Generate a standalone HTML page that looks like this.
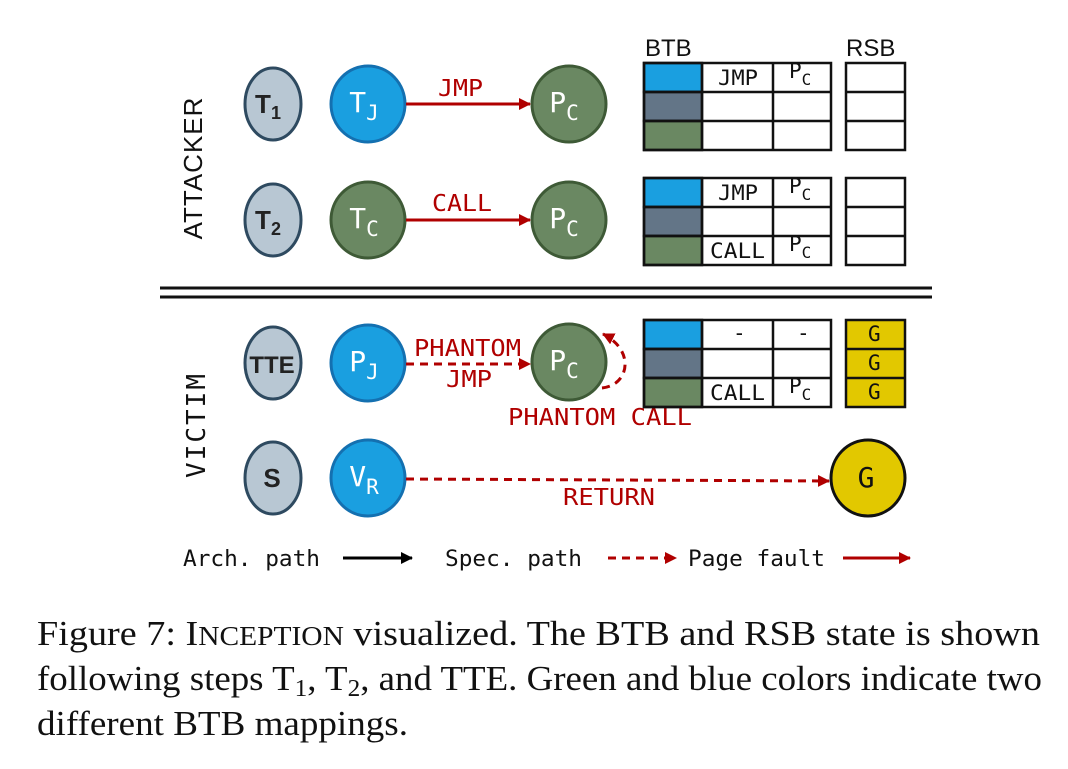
<!DOCTYPE html>
<html><head><style>body{margin:0;background:#fff}svg{display:block}
.m{font-family:"DejaVu Sans Mono","Liberation Mono",monospace}
.cap{font-family:"Liberation Serif",serif;font-size:35px;fill:#111}</style></head><body>
<svg width="1068" height="769" viewBox="0 0 1068 769">
<defs>
<marker id="ar" markerWidth="12" markerHeight="12" refX="11" refY="6" orient="auto" markerUnits="userSpaceOnUse"><path d="M0,0 L12,6 L0,12 Z" fill="#b00000"/></marker>
<marker id="ab" markerWidth="12" markerHeight="12" refX="11" refY="6" orient="auto" markerUnits="userSpaceOnUse"><path d="M0,0 L12,6 L0,12 Z" fill="#000"/></marker>
</defs>
<g font-family="Liberation Sans, sans-serif">
<text transform="translate(202,168) rotate(-90)" text-anchor="middle" font-size="26" fill="#111" letter-spacing="1">ATTACKER</text>
<text class="m" transform="translate(205,425) rotate(-90)" text-anchor="middle" font-size="26" fill="#111" letter-spacing="2">VICTIM</text>
</g>
<g stroke-width="3">
<ellipse cx="273" cy="104" rx="28" ry="36" fill="#b8c7d3" stroke="#2e4a60"/>
<ellipse cx="368" cy="104" rx="37" ry="38" fill="#1a9fe0" stroke="#1470b0"/>
<ellipse cx="569" cy="104" rx="37" ry="38" fill="#6a8862" stroke="#3e5a36"/>
<ellipse cx="273" cy="220" rx="28" ry="36" fill="#b8c7d3" stroke="#2e4a60"/>
<ellipse cx="368" cy="220" rx="37" ry="38" fill="#6a8862" stroke="#3e5a36"/>
<ellipse cx="569" cy="220" rx="37" ry="38" fill="#6a8862" stroke="#3e5a36"/>
<ellipse cx="273" cy="363" rx="28" ry="36" fill="#b8c7d3" stroke="#2e4a60"/>
<ellipse cx="368" cy="363" rx="37" ry="38" fill="#1a9fe0" stroke="#1470b0"/>
<ellipse cx="569" cy="362" rx="37" ry="38" fill="#6a8862" stroke="#3e5a36"/>
<ellipse cx="273" cy="478" rx="28" ry="36" fill="#b8c7d3" stroke="#2e4a60"/>
<ellipse cx="368" cy="478" rx="37" ry="38" fill="#1a9fe0" stroke="#1470b0"/>
<ellipse cx="868" cy="478" rx="37" ry="38" fill="#e2c800" stroke="#111"/>
</g>
<g font-family="Liberation Sans, sans-serif" font-weight="bold" font-size="26" fill="#222" text-anchor="middle">
<text x="268" y="113">T<tspan font-size="18" dy="6">1</tspan></text>
<text x="268" y="229">T<tspan font-size="18" dy="6">2</tspan></text>
<text x="272" y="373" font-size="24">TTE</text>
<text x="272" y="487">S</text>
</g>
<g class="m" font-size="28" fill="#fff" text-anchor="middle">
<text x="364" y="112">T<tspan font-size="21" dy="8">J</tspan></text>
<text x="564" y="112">P<tspan font-size="21" dy="8">C</tspan></text>
<text x="364" y="228">T<tspan font-size="21" dy="8">C</tspan></text>
<text x="564" y="228">P<tspan font-size="21" dy="8">C</tspan></text>
<text x="364" y="371">P<tspan font-size="21" dy="8">J</tspan></text>
<text x="564" y="370">P<tspan font-size="21" dy="8">C</tspan></text>
<text x="364" y="486">V<tspan font-size="21" dy="8">R</tspan></text>
<text x="866" y="487" fill="#111">G</text>
</g>
<line x1="406" y1="104" x2="530" y2="104" stroke="#b00000" stroke-width="3" marker-end="url(#ar)"/>
<line x1="406" y1="220" x2="530" y2="220" stroke="#b00000" stroke-width="3" marker-end="url(#ar)"/>
<line x1="406" y1="364" x2="530" y2="364" stroke="#b00000" stroke-width="3" stroke-dasharray="8,6" marker-end="url(#ar)"/>
<line x1="406" y1="479" x2="829" y2="481" stroke="#b00000" stroke-width="3" stroke-dasharray="8,6" marker-end="url(#ar)"/>
<path d="M602,388 C630,385 635,350 603,334" fill="none" stroke="#b00000" stroke-width="3" stroke-dasharray="8,6" marker-end="url(#ar)"/>
<g class="m" font-size="23" fill="#b00000" lengthAdjust="spacingAndGlyphs">
<text x="438" y="96" textLength="45" lengthAdjust="spacingAndGlyphs">JMP</text>
<text x="432" y="211" textLength="60" lengthAdjust="spacingAndGlyphs">CALL</text>
<text x="414" y="356" textLength="107" lengthAdjust="spacingAndGlyphs">PHANTOM</text>
<text x="446" y="387" textLength="46" lengthAdjust="spacingAndGlyphs">JMP</text>
<text x="508" y="425" textLength="184" lengthAdjust="spacingAndGlyphs">PHANTOM CALL</text>
<text x="563" y="505" textLength="92" lengthAdjust="spacingAndGlyphs">RETURN</text>
</g>
<g font-family="Liberation Sans, sans-serif" font-size="24" fill="#111">
<text x="645" y="56">BTB</text><text x="846" y="56">RSB</text></g>
<g stroke="#111" stroke-width="2.5" fill="none">
<rect x="644" y="63" width="58" height="29" fill="#1a9fe0"/><rect x="644" y="92" width="58" height="29" fill="#637587"/><rect x="644" y="121" width="58" height="29" fill="#6a8862"/>
<rect x="644" y="63" width="187" height="87"/><line x1="644" y1="92" x2="831" y2="92"/><line x1="644" y1="121" x2="831" y2="121"/><line x1="702" y1="63" x2="702" y2="150"/><line x1="773" y1="63" x2="773" y2="150"/>
<rect x="846" y="63" width="59" height="87"/><line x1="846" y1="92" x2="905" y2="92"/><line x1="846" y1="121" x2="905" y2="121"/>
<rect x="644" y="178" width="58" height="29" fill="#1a9fe0"/><rect x="644" y="207" width="58" height="29" fill="#637587"/><rect x="644" y="236" width="58" height="29" fill="#6a8862"/>
<rect x="644" y="178" width="187" height="87"/><line x1="644" y1="207" x2="831" y2="207"/><line x1="644" y1="236" x2="831" y2="236"/><line x1="702" y1="178" x2="702" y2="265"/><line x1="773" y1="178" x2="773" y2="265"/>
<rect x="846" y="178" width="59" height="87"/><line x1="846" y1="207" x2="905" y2="207"/><line x1="846" y1="236" x2="905" y2="236"/>
<rect x="644" y="320" width="58" height="29" fill="#1a9fe0"/><rect x="644" y="349" width="58" height="29" fill="#637587"/><rect x="644" y="378" width="58" height="29" fill="#6a8862"/>
<rect x="644" y="320" width="187" height="87"/><line x1="644" y1="349" x2="831" y2="349"/><line x1="644" y1="378" x2="831" y2="378"/><line x1="702" y1="320" x2="702" y2="407"/><line x1="773" y1="320" x2="773" y2="407"/>
<rect x="846" y="320" width="59" height="87" fill="#e2c800"/><line x1="846" y1="349" x2="905" y2="349"/><line x1="846" y1="378" x2="905" y2="378"/>
</g>
<g class="m" font-size="21" fill="#111">
<text x="718" y="85" textLength="40" lengthAdjust="spacingAndGlyphs">JMP</text><text x="789" y="78">P<tspan font-size="16" dy="7">C</tspan></text>
<text x="718" y="200" textLength="40" lengthAdjust="spacingAndGlyphs">JMP</text><text x="789" y="193">P<tspan font-size="16" dy="7">C</tspan></text>
<text x="710" y="258" textLength="55" lengthAdjust="spacingAndGlyphs">CALL</text><text x="789" y="251">P<tspan font-size="16" dy="7">C</tspan></text>
<text x="733" y="340">-</text><text x="797" y="340">-</text>
<text x="710" y="400" textLength="55" lengthAdjust="spacingAndGlyphs">CALL</text><text x="789" y="393">P<tspan font-size="16" dy="7">C</tspan></text>
<text x="868" y="341">G</text><text x="868" y="370">G</text><text x="868" y="399">G</text>
</g>
<line x1="160" y1="288" x2="932" y2="288" stroke="#111" stroke-width="3"/>
<line x1="160" y1="297" x2="932" y2="297" stroke="#111" stroke-width="3"/>
<g class="m" font-size="22" fill="#111">
<text x="183" y="566" textLength="137" lengthAdjust="spacingAndGlyphs">Arch. path</text>
<text x="445" y="566" textLength="137" lengthAdjust="spacingAndGlyphs">Spec. path</text>
<text x="688" y="566" textLength="137" lengthAdjust="spacingAndGlyphs">Page fault</text></g>
<line x1="343" y1="558" x2="412" y2="558" stroke="#000" stroke-width="3" marker-end="url(#ab)"/>
<line x1="608" y1="558" x2="676" y2="558" stroke="#b00000" stroke-width="3" stroke-dasharray="8,6" marker-end="url(#ar)"/>
<line x1="843" y1="558" x2="910" y2="558" stroke="#b00000" stroke-width="3" marker-end="url(#ar)"/>
<text class="cap" x="37" y="645" textLength="1003" lengthAdjust="spacingAndGlyphs">Figure 7: I<tspan font-size="27">NCEPTION</tspan> visualized. The BTB and RSB state is shown</text>
<text class="cap" x="37" y="690" textLength="1005" lengthAdjust="spacingAndGlyphs">following steps T<tspan font-size="24" dy="6">1</tspan><tspan dy="-6">, T</tspan><tspan font-size="24" dy="6">2</tspan><tspan dy="-6">, and TTE. Green and blue colors indicate two</tspan></text>
<text class="cap" x="37" y="735" textLength="371" lengthAdjust="spacingAndGlyphs">different BTB mappings.</text>
</svg></body></html>
